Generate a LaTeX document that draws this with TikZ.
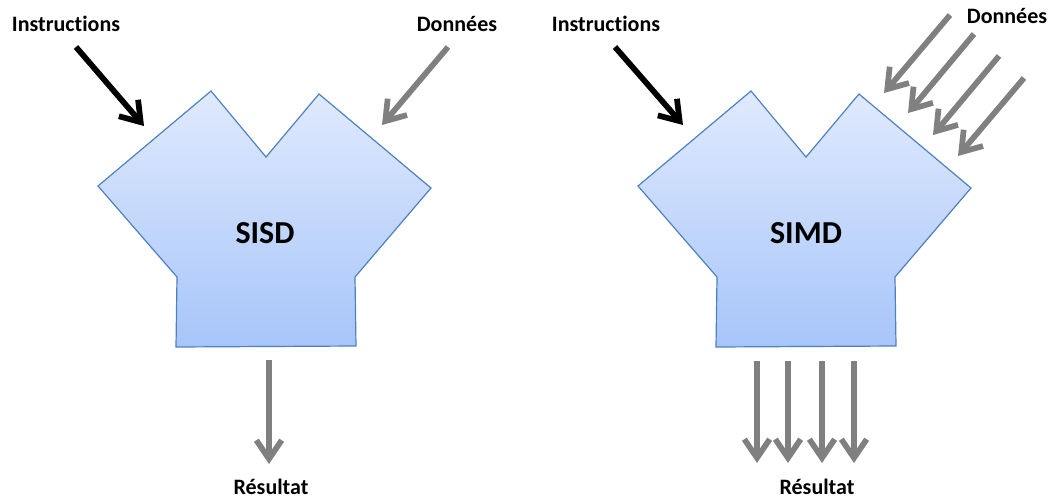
\documentclass[tikz,border=0pt]{standalone}
\usepackage{fontspec}
\setmainfont{Carlito}[Ligatures=NoCommon]
\usetikzlibrary{arrows.meta}
\definecolor{shapetop}{HTML}{E0EAFD}
\definecolor{shapebot}{HTML}{A7C5FA}
\definecolor{shapeedge}{HTML}{4F81BD}
\definecolor{arrgray}{HTML}{808080}
\begin{document}
\begin{tikzpicture}[x=0.75pt,y=-0.75pt,
  lbl/.style={font=\bfseries\fontsize{16.5}{19}\selectfont, inner sep=0pt},
  big/.style={font=\bfseries\fontsize{24}{28}\selectfont, inner sep=0pt},
  fat/.style={line width=4.3pt, -{Straight Barb[length=14pt,width=19pt]}},
  blk/.style={fat, draw=black},
  gry/.style={fat, draw=arrgray},
  body/.style={draw=shapeedge, line width=0.9pt, top color=shapetop, bottom color=shapebot}]
\useasboundingbox (0,0) rectangle (1053,500);

% bodies
\foreach \o in {0,540}{
  \path[body] (211+\o,91) -- (266+\o,157) -- (319+\o,94) -- (431+\o,188) -- (355+\o,277)
    -- (356+\o,346) -- (176+\o,347) -- (177+\o,277) -- (98+\o,186) -- cycle;
}
\node[big] (sisd) at (265,233) {SISD};
\node[big] (simd) at (806,233) {SIMD};

% labels
\node[lbl] (ins1) at (66,24) {Instructions};
\node[lbl] (don1) at (457,24) {Données};
\node[lbl] (res1) at (271,487) {Résultat};
\node[lbl] (ins2) at (606,24) {Instructions};
\node[lbl] (don2) at (1007,16) {Données};
\node[lbl] (res2) at (817,487) {Résultat};

% SISD arrows
\coordinate (i1s) at (76,47);   \coordinate (i1e) at (144,126);
\coordinate (d1s) at (448,47);  \coordinate (d1e) at (382,125);
\coordinate (r1s) at (269,360); \coordinate (r1e) at (269,464);
\draw[blk] (i1s) -- (i1e);
\draw[gry] (d1s) -- (d1e);
\draw[gry] (r1s) -- (r1e);

% SIMD arrows
\coordinate (i2s) at (615,47);  \coordinate (i2e) at (683,125);
\draw[blk] (i2s) -- (i2e);
\coordinate (da1s) at (950,15);  \coordinate (da1e) at (884,93);
\coordinate (da2s) at (974,34);  \coordinate (da2e) at (908,113);
\coordinate (da3s) at (999,56);  \coordinate (da3e) at (933,135);
\coordinate (da4s) at (1024,78); \coordinate (da4e) at (958,156);
\draw[gry] (da1s) -- (da1e);
\draw[gry] (da2s) -- (da2e);
\draw[gry] (da3s) -- (da3e);
\draw[gry] (da4s) -- (da4e);
\coordinate (ra1s) at (757,361); \coordinate (ra1e) at (757,463);
\coordinate (ra2s) at (788,361); \coordinate (ra2e) at (788,463);
\coordinate (ra3s) at (822,361); \coordinate (ra3e) at (822,463);
\coordinate (ra4s) at (854,361); \coordinate (ra4e) at (854,463);
\draw[gry] (ra1s) -- (ra1e);
\draw[gry] (ra2s) -- (ra2e);
\draw[gry] (ra3s) -- (ra3e);
\draw[gry] (ra4s) -- (ra4e);
\end{tikzpicture}
\end{document}
